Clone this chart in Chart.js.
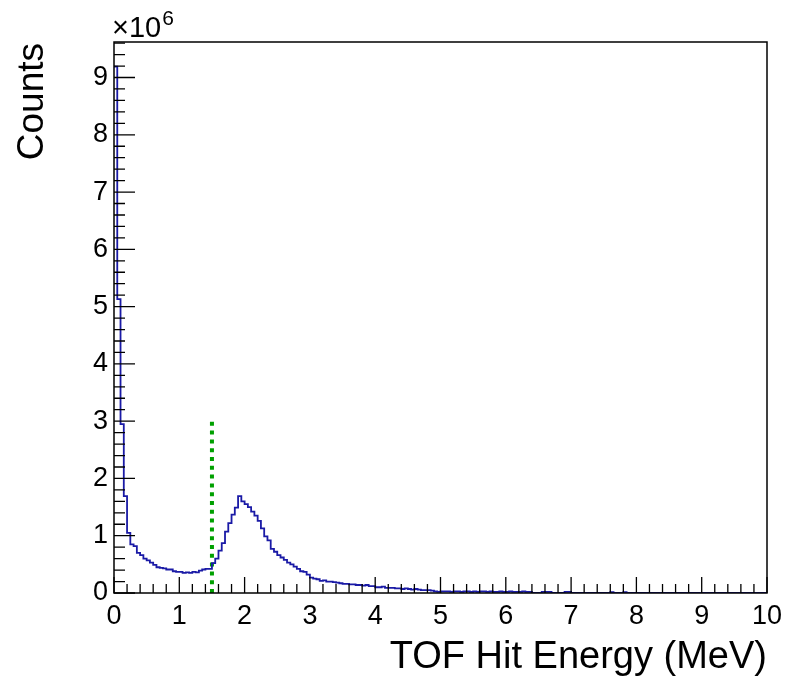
<!DOCTYPE html>
<html>
<head>
<meta charset="utf-8">
<title>TOF Hit Energy</title>
<script src="https://cdn.jsdelivr.net/npm/chart.js@4/dist/chart.umd.min.js"></script>
<style>
    html, body { margin: 0; padding: 0; background: #fff; }
    #wrap { width: 787px; height: 680px; }
</style>
</head>
<body>
<div id="wrap"><canvas id="energyChart" width="787" height="680"></canvas></div>
<script>
// Energy range of the histogram (MeV)
const xMin = 0;
const xMax = 10;
const yMax = 9.62;

// Bin contents in units of 10^6 counts, 200 bins of 0.05 MeV
const counts = [
    9.19, 5.13, 2.95, 1.69, 1.05, 0.85, 0.82, 0.70, 0.66, 0.60,
    0.57, 0.53, 0.49, 0.45, 0.44, 0.43, 0.41, 0.41, 0.38, 0.37,
    0.37, 0.35, 0.36, 0.35, 0.37, 0.36, 0.39, 0.41, 0.42, 0.42,
    0.52, 0.60, 0.74, 0.87, 1.07, 1.22, 1.37, 1.49, 1.69, 1.60,
    1.55, 1.50, 1.42, 1.35, 1.26, 1.13, 0.99, 0.92, 0.77, 0.72,
    0.66, 0.62, 0.58, 0.53, 0.50, 0.46, 0.42, 0.38, 0.37, 0.32,
    0.27, 0.25, 0.24, 0.21, 0.22, 0.20, 0.20, 0.19, 0.18, 0.17,
    0.16, 0.16, 0.15, 0.15, 0.14, 0.14, 0.13, 0.14, 0.12, 0.12,
    0.10, 0.10, 0.11, 0.09, 0.09, 0.09, 0.08, 0.08, 0.07, 0.08,
    0.07, 0.06, 0.07, 0.06, 0.05, 0.05, 0.05, 0.04, 0.03, 0.02,
    0.03, 0.03, 0.03, 0.02, 0.03, 0.03, 0.02, 0.03, 0.03, 0.02,
    0.03, 0.02, 0.03, 0.03, 0.02, 0.03, 0.02, 0.02, 0.03, 0.02,
    0.02, 0.03, 0.02, 0.02, 0.02, 0.03, 0.02, 0.02, 0, 0,
    0, 0.02, 0.02, 0.02, 0, 0, 0, 0, 0.02, 0.02,
    0, 0, 0, 0, 0, 0, 0, 0, 0, 0,
    0, 0, 0.015, 0, 0, 0, 0.015, 0, 0, 0,
    0, 0, 0, 0, 0, 0, 0, 0, 0, 0,
    0, 0, 0, 0, 0, 0, 0, 0, 0, 0,
    0, 0, 0, 0, 0, 0, 0, 0, 0, 0,
    0, 0, 0, 0, 0, 0, 0, 0, 0, 0
];

// Energy cut marker
const cutEnergy = 1.5;
const cutHeight = 3;

// Axis tick labels
const xTickLabels = ['0', '1', '2', '3', '4', '5', '6', '7', '8', '9', '10'];
const yTickLabels = ['0', '1', '2', '3', '4', '5', '6', '7', '8', '9'];

const xTitle = 'TOF Hit Energy (MeV)';
const yTitle = 'Counts';

const fontFamily = '"Liberation Sans", Arial, Helvetica, sans-serif';

// bin edges -> step points
const binWidth = (xMax - xMin) / counts.length;
const histPoints = counts.map((c, i) => ({x: xMin + i * binWidth, y: c}));
histPoints.push({x: xMax, y: counts[counts.length - 1]});

// ROOT-like frame, inward ticks, labels and titles
const frameAxes = {
    id: 'frameAxes',
    afterDraw(chart) {
        const ctx = chart.ctx;
        const area = chart.chartArea;
        const xs = chart.scales.x;
        const ys = chart.scales.y;

        ctx.save();
        ctx.strokeStyle = '#000';
        ctx.lineWidth = 1.5;
        ctx.strokeRect(area.left, area.top, area.right - area.left, area.bottom - area.top);

        // x ticks
        ctx.lineWidth = 1.3;
        ctx.beginPath();
        for (let v = xMin; v <= xMax + 1e-6; v += 0.2) {
            const px = xs.getPixelForValue(v);
            const major = Math.abs(v - Math.round(v)) < 1e-6;
            ctx.moveTo(px, area.bottom);
            ctx.lineTo(px, area.bottom - (major ? 16 : 9));
        }
        // y ticks
        for (let v = 0; v <= yMax + 1e-6; v += 0.2) {
            const py = ys.getPixelForValue(v);
            const major = Math.abs(v - Math.round(v)) < 1e-6;
            ctx.moveTo(area.left, py);
            ctx.lineTo(area.left + (major ? 21 : 11), py);
        }
        ctx.stroke();

        ctx.fillStyle = '#000';
        ctx.font = '27px ' + fontFamily;
        ctx.textAlign = 'center';
        ctx.textBaseline = 'alphabetic';
        xTickLabels.forEach(label => {
            ctx.fillText(label, xs.getPixelForValue(Number(label)), 623.5);
        });

        ctx.textAlign = 'right';
        ctx.textBaseline = 'middle';
        yTickLabels.forEach(label => {
            ctx.fillText(label, 108, ys.getPixelForValue(Number(label)));
        });

        // exponent
        ctx.font = '29px ' + fontFamily;
        ctx.textAlign = 'left';
        ctx.textBaseline = 'alphabetic';
        ctx.fillText('\u00d710', 112, 37);
        const w = ctx.measureText('\u00d710').width;
        ctx.font = '21px ' + fontFamily;
        ctx.fillText('6', 112 + w + 1, 25);

        // axis titles
        ctx.font = '38px ' + fontFamily;
        ctx.textAlign = 'right';
        ctx.fillText(xTitle, area.right, 668);

        ctx.font = '37px ' + fontFamily;
        ctx.translate(43, area.top + 1);
        ctx.rotate(-Math.PI / 2);
        ctx.textAlign = 'right';
        ctx.fillText(yTitle, 0, 0);
        ctx.restore();
    }
};

const chart = new Chart(document.getElementById('energyChart'), {
    type: 'line',
    data: {
        datasets: [
            {
                data: histPoints,
                stepped: 'before',
                borderColor: '#1a1aa6',
                borderWidth: 1.8,
                pointRadius: 0,
                fill: false
            },
            {
                data: [{x: cutEnergy, y: 0}, {x: cutEnergy, y: cutHeight}],
                borderColor: '#00a000',
                borderWidth: 4,
                borderDash: [4, 4.8],
                borderCapStyle: 'butt',
                pointRadius: 0,
                fill: false
            }
        ]
    },
    options: {
        responsive: false,
        animation: false,
        layout: {
            padding: {left: 114, right: 20, top: 42, bottom: 87}
        },
        plugins: {
            legend: {display: false},
            tooltip: {enabled: false}
        },
        scales: {
            x: {type: 'linear', min: xMin, max: xMax, display: false},
            y: {type: 'linear', min: 0, max: yMax, display: false}
        }
    },
    plugins: [frameAxes]
});
</script>
</body>
</html>
